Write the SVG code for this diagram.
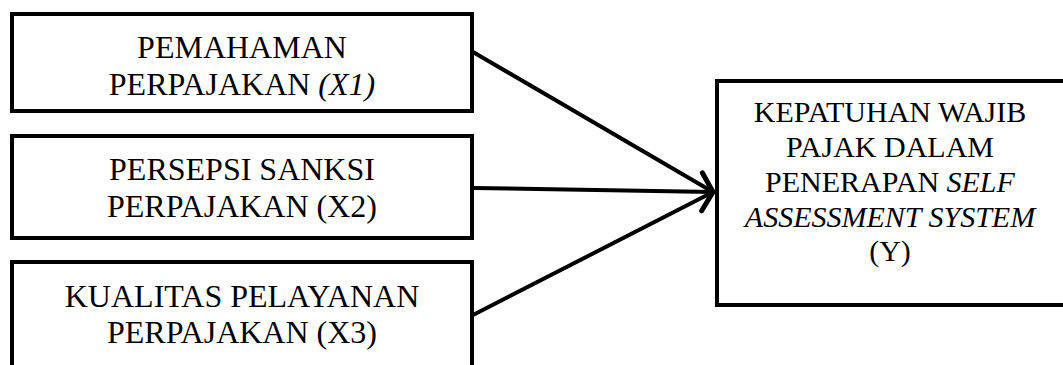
<svg xmlns="http://www.w3.org/2000/svg" width="1063" height="365" viewBox="0 0 1063 365">
<style>
.box{fill:#fff;stroke:#000;stroke-width:4}
.t{font-family:"Liberation Serif","Times New Roman",serif;font-size:32px;fill:#000;text-anchor:middle}
.r{font-size:30px}
.i{font-style:italic}
.c{stroke:#000;stroke-width:4;fill:none;stroke-linecap:round}
</style>
<defs>
<marker id="ah" markerUnits="userSpaceOnUse" viewBox="-16 -24 20 48" refX="0" refY="0" markerWidth="20" markerHeight="48" orient="auto">
<path d="M-11 -19 L0 0 L-11 19" fill="none" stroke="#000" stroke-width="5" stroke-linecap="round" stroke-linejoin="round"/>
</marker>
</defs>
<rect width="1063" height="365" fill="#fff"/>
<g id="connectors">
<line class="c" x1="473" y1="52" x2="713" y2="192"/>
<line class="c" x1="473" y1="188" x2="713" y2="192" marker-end="url(#ah)"/>
<line class="c" x1="473" y1="315" x2="713" y2="192"/>
</g>
<g id="x1">
<rect class="box" x="12" y="14" width="460" height="97"/>
<text class="t" x="242" y="58">PEMAHAMAN</text>
<text class="t" x="242" y="95">PERPAJAKAN <tspan class="i">(X1)</tspan></text>
</g>
<g id="x2">
<rect class="box" x="12" y="136" width="460" height="102"/>
<text class="t" x="242" y="180">PERSEPSI SANKSI</text>
<text class="t" x="242" y="217">PERPAJAKAN (X2)</text>
</g>
<g id="x3">
<rect class="box" x="12" y="262" width="460" height="120"/>
<text class="t" x="242" y="307">KUALITAS PELAYANAN</text>
<text class="t" x="242" y="343">PERPAJAKAN (X3)</text>
</g>
<g id="y">
<rect class="box" x="717" y="81" width="360" height="224"/>
<text class="t r" x="890" y="122">KEPATUHAN WAJIB</text>
<text class="t r" x="890" y="157">PAJAK DALAM</text>
<text class="t r" x="890" y="192">PENERAPAN <tspan class="i">SELF</tspan></text>
<text class="t r i" x="890" y="227">ASSESSMENT SYSTEM</text>
<text class="t r" x="890" y="261">(Y)</text>
</g>
</svg>
